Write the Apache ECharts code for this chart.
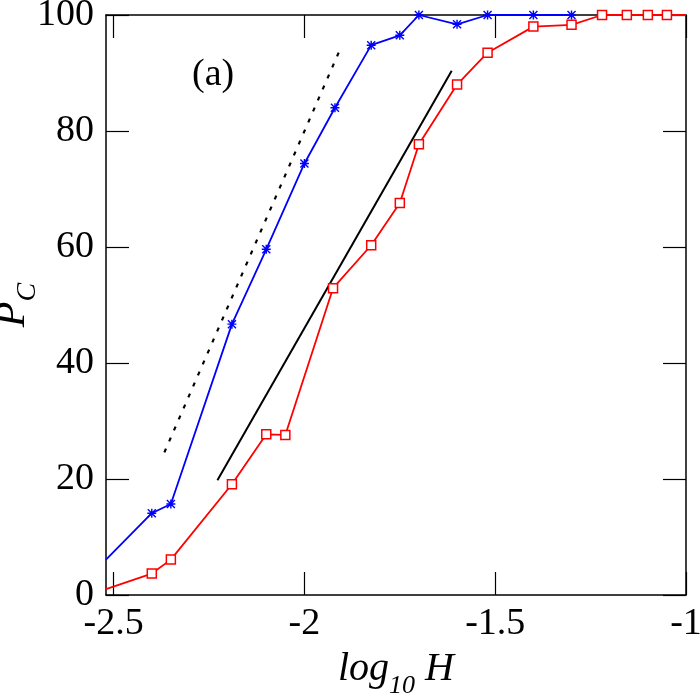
<!DOCTYPE html>
<html>
<head>
<meta charset="utf-8">
<script src="https://cdn.jsdelivr.net/npm/echarts@6/dist/echarts.min.js"></script>
<style>
  html, body { margin: 0; padding: 0; background: #fff; }
  #main { width: 700px; height: 700px; }
</style>
</head>
<body>
<div id="main"></div>
<script>
// 数据: log10 H 与 P_C
var blueX = [-2.52, -2.4, -2.35, -2.19, -2.1, -2.0, -1.92, -1.825, -1.75, -1.7, -1.6, -1.52, -1.4, -1.3];
var blueY = [6.1, 14.1, 15.7, 46.7, 59.6, 74.4, 84.0, 94.8, 96.5, 100, 98.4, 100, 100, 100];

var redX = [-2.52, -2.4, -2.35, -2.19, -2.1, -2.05, -1.925, -1.825, -1.75, -1.7, -1.6, -1.52, -1.4, -1.3, -1.22, -1.155, -1.1, -1.05, -1.0];
var redY = [1.0, 3.7, 6.1, 19.1, 27.7, 27.6, 52.9, 60.3, 67.6, 77.7, 88.0, 93.5, 98.0, 98.3, 100, 100, 100, 100, 100];

// 参考直线 (虚线 / 实线)
var dottedX = [-2.367, -1.907];
var dottedY = [24.6, 94.0];
var solidX = [-2.228, -1.614];
var solidY = [19.8, 90.4];

var xTicks = [-2.5, -2, -1.5, -1];
var yTicks = [0, 20, 40, 60, 80, 100];

// 组合成 [x, y] 数据; 边界上的点不画标记
function pairs(xs, ys, edge) {
    var list = [];
    for (var i = 0; i < xs.length; i++) {
        var item = { value: [xs[i], ys[i]] };
        if (edge && (xs[i] <= -2.52 || xs[i] >= -1.0)) {
            item.symbol = 'none';
        }
        list.push(item);
    }
    return list;
}

var serif = 'Liberation Serif';
var starPath = 'path://M0,4.2 L10,4.2 L10,5.8 L0,5.8 Z M4.2,0 L5.8,0 L5.8,10 L4.2,10 Z M1.1,0 L10,8.9 L8.9,10 L0,1.1 Z M8.9,0 L10,1.1 L1.1,10 L0,8.9 Z';

var myChart = echarts.init(document.getElementById('main'));

var axisBase = {
    type: 'value',
    min: -2.52,
    max: -1,
    axisLine: { show: true, onZero: false, lineStyle: { color: '#000', width: 1.5 } },
    axisTick: { show: true, inside: true, length: 23, customValues: xTicks, lineStyle: { color: '#000', width: 1.2 } },
    splitLine: { show: false }
};

var option = {
    animation: false,
    backgroundColor: '#fff',
    grid: { left: 106, right: 14, top: 15, bottom: 105, containLabel: false, outerBoundsMode: 'none' },
    xAxis: [
        Object.assign({}, axisBase, {
            position: 'bottom',
            axisLabel: {
                customValues: xTicks,
                fontFamily: serif, fontSize: 38, color: '#000', margin: 10,
                formatter: function (v) { return String(v); }
            },
            name: '{i|log}{s|10}{i| H}',
            nameLocation: 'middle',
            nameGap: 54,
            nameMoveOverlap: false,
            nameTextStyle: {
                rich: {
                    i: { fontFamily: serif, fontStyle: 'italic', fontSize: 40, color: '#000', verticalAlign: 'top' },
                    s: { fontFamily: serif, fontStyle: 'italic', fontSize: 26, color: '#000', verticalAlign: 'bottom', padding: [24, 0, 0, 0] }
                }
            }
        }),
        Object.assign({}, axisBase, {
            position: 'top',
            axisLabel: { show: false }
        })
    ],
    yAxis: [
        {
            type: 'value',
            min: 0, max: 100, interval: 20,
            position: 'left',
            axisLine: { show: true, lineStyle: { color: '#000', width: 1.5 } },
            axisTick: { show: true, inside: true, length: 23, lineStyle: { color: '#000', width: 1.2 } },
            axisLabel: { fontFamily: serif, fontSize: 38, color: '#000', margin: 12 },
            splitLine: { show: false },
            name: '{i|P}{s|C}',
            nameLocation: 'middle',
            nameRotate: 90,
            nameGap: 64,
            nameMoveOverlap: false,
            nameTextStyle: {
                rich: {
                    i: { fontFamily: serif, fontStyle: 'italic', fontSize: 42, color: '#000', verticalAlign: 'top' },
                    s: { fontFamily: serif, fontStyle: 'italic', fontSize: 28, color: '#000', verticalAlign: 'bottom', padding: [22, 0, 0, 0] }
                }
            }
        },
        {
            type: 'value',
            min: 0, max: 100, interval: 20,
            position: 'right',
            axisLine: { show: true, lineStyle: { color: '#000', width: 1.5 } },
            axisTick: { show: true, inside: true, length: 23, lineStyle: { color: '#000', width: 1.2 } },
            axisLabel: { show: false },
            splitLine: { show: false }
        }
    ],
    graphic: [
        {
            type: 'text',
            left: 192,
            top: 56,
            style: { text: '(a)', font: '38px "Liberation Serif"', fill: '#000' }
        }
    ],
    series: [
        {
            name: 'dotted',
            type: 'line',
            data: pairs(dottedX, dottedY, false),
            symbol: 'none',
            lineStyle: { color: '#000', width: 2.2, type: [4, 8] },
            z: 1
        },
        {
            name: 'solid',
            type: 'line',
            data: pairs(solidX, solidY, false),
            symbol: 'none',
            lineStyle: { color: '#000', width: 2 },
            z: 1
        },
        {
            name: 'blue',
            type: 'line',
            data: pairs(blueX, blueY, true),
            symbol: starPath,
            symbolSize: 9,
            lineStyle: { color: '#0000ff', width: 1.8 },
            itemStyle: { color: '#0000ff' },
            clip: true,
            z: 3
        },
        {
            name: 'red',
            type: 'line',
            data: pairs(redX, redY, true),
            symbol: 'rect',
            symbolSize: 9,
            lineStyle: { color: '#ff0000', width: 1.8 },
            itemStyle: { color: '#fff', borderColor: '#ff0000', borderWidth: 1.5 },
            clip: true,
            z: 2
        }
    ]
};

myChart.setOption(option);
</script>
</body>
</html>
